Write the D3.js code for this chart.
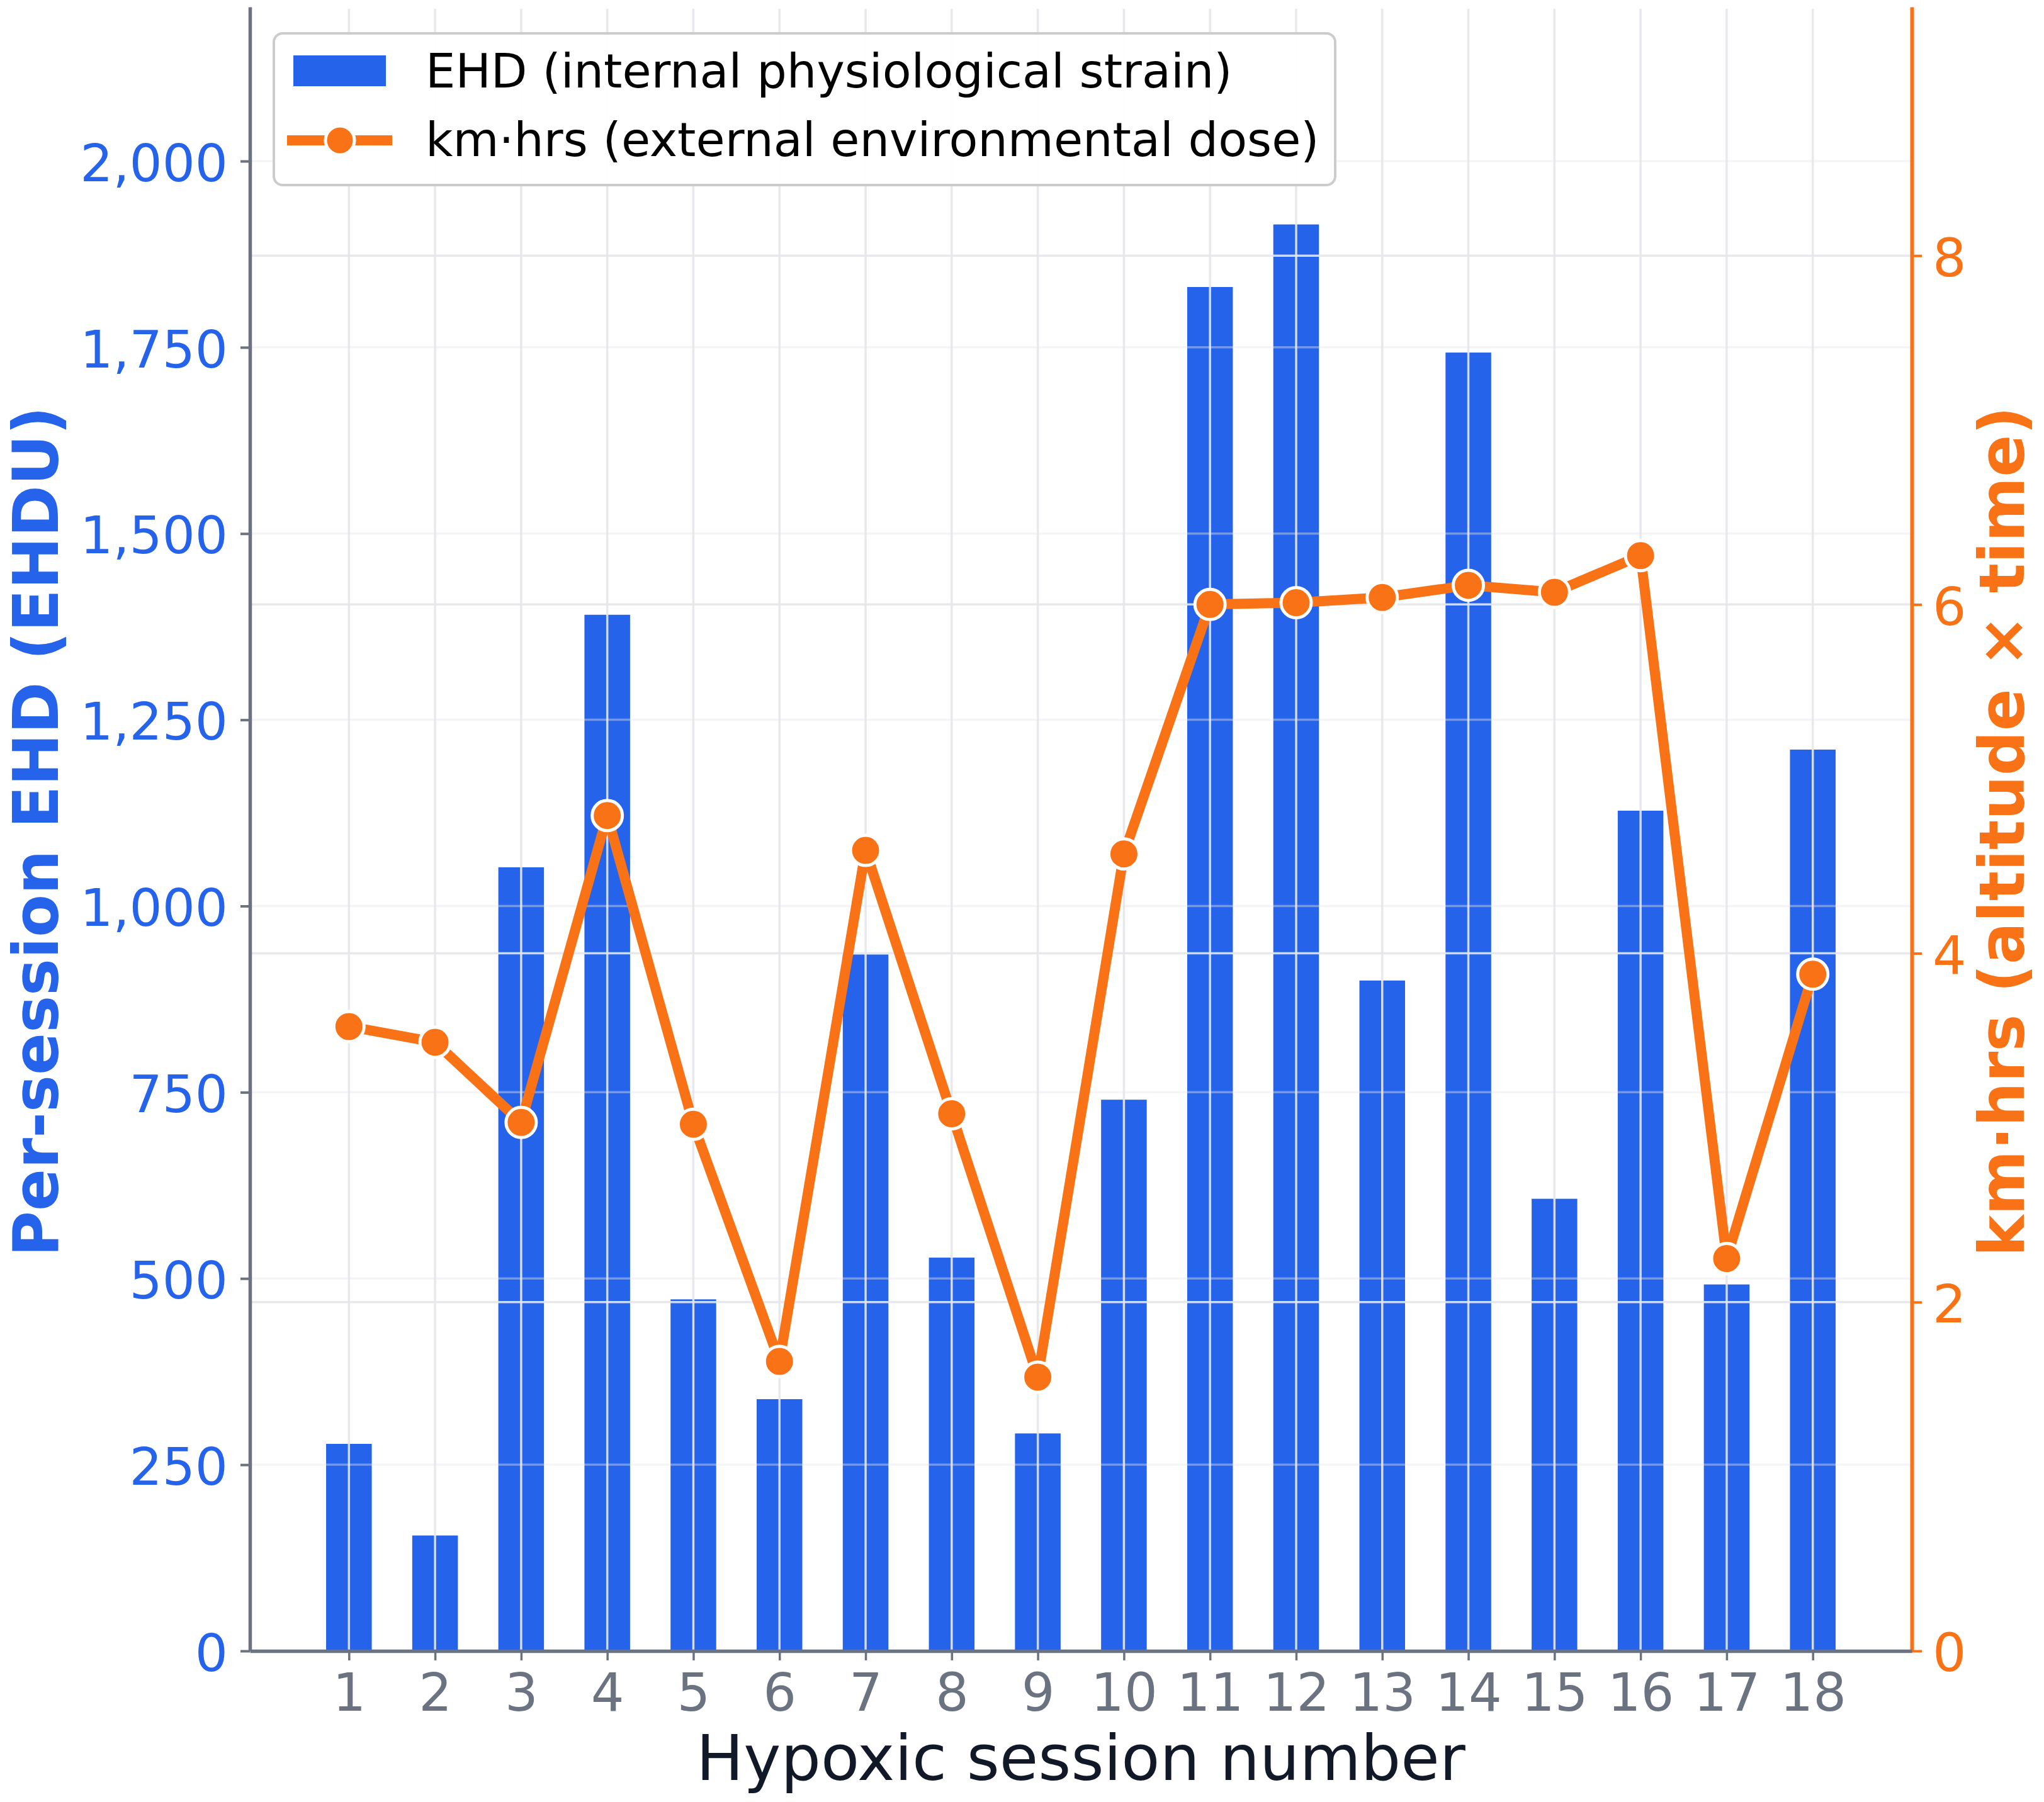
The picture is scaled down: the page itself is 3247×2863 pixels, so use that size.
<!DOCTYPE html>
<html>
<head>
<meta charset="utf-8">
<script src="https://cdn.jsdelivr.net/npm/d3@7"></script>
<style>
  html, body { margin: 0; padding: 0; background: #ffffff; }
  svg { display: block; font-family: "DejaVu Sans", sans-serif; }
</style>
</head>
<body>
<svg id="chart" width="3247" height="2863"></svg>
<script>
// ---- data ----
const sessions = [1,2,3,4,5,6,7,8,9,10,11,12,13,14,15,16,17,18];
const ehdValues = [278, 155, 1052, 1391, 472, 338, 935, 528, 292, 740, 1831, 1915, 900, 1743, 607, 1128, 492, 1210];
const kmHrsValues = [3.58, 3.49, 3.03, 4.79, 3.02, 1.66, 4.59, 3.08, 1.57, 4.57, 6.00, 6.01, 6.04, 6.11, 6.07, 6.28, 2.25, 3.88];
const leftTicks = [0, 250, 500, 750, 1000, 1250, 1500, 1750, 2000];
const rightTicks = [0, 2, 4, 6, 8];
const seriesNames = ["EHD (internal physiological strain)", "km\u00B7hrs (external environmental dose)"];
const xTitle = "Hypoxic session number";
const yLeftTitle = "Per-session EHD (EHDU)";
const yRightTitle = "km\u00B7hrs (altitude \u00D7 time)";

// ---- styling ----
const BLUE = "#2563eb", ORANGE = "#f97316", GRAY = "#6b7280", DARK = "#111827", GRID = "#e5e7eb";
const plot = { left: 397, right: 3037, top: 11, bottom: 2623 };
const barWidth = 0.53;

const svg = d3.select("#chart");
const x = d3.scaleLinear().domain([-0.15, 19.15]).range([plot.left, plot.right]);
const yL = d3.scaleLinear().domain([0, 2207]).range([plot.bottom, plot.top]);
const yR = d3.scaleLinear().domain([0, 9.426]).range([plot.bottom, plot.top]);

// bars
svg.append("g").selectAll("rect").data(sessions).join("rect")
  .attr("x", (d) => x(d - barWidth / 2))
  .attr("width", (d) => x(barWidth) - x(0))
  .attr("y", (d, i) => yL(ehdValues[i]))
  .attr("height", (d, i) => yL(0) - yL(ehdValues[i]))
  .attr("fill", BLUE);

// left-axis grid (faint, over bars)
svg.append("g").selectAll("line").data(leftTicks.filter(d => d > 0)).join("line")
  .attr("x1", plot.left).attr("x2", plot.right)
  .attr("y1", d => yL(d)).attr("y2", d => yL(d))
  .attr("stroke", GRID).attr("stroke-width", 3.5).attr("stroke-opacity", 0.4);

// right-axis grid + vertical grid
svg.append("g").selectAll("line").data(rightTicks.filter(d => d > 0)).join("line")
  .attr("x1", plot.left).attr("x2", plot.right)
  .attr("y1", d => yR(d)).attr("y2", d => yR(d))
  .attr("stroke", GRID).attr("stroke-width", 3.5).attr("stroke-opacity", 0.9);
svg.append("g").selectAll("line").data(sessions).join("line")
  .attr("x1", d => x(d)).attr("x2", d => x(d))
  .attr("y1", plot.top + 3).attr("y2", plot.bottom)
  .attr("stroke", GRID).attr("stroke-width", 3.5).attr("stroke-opacity", 0.9);

// axes
const axL = svg.append("g").attr("transform", `translate(${plot.left},0)`)
  .call(d3.axisLeft(yL).tickValues(leftTicks).tickFormat(d3.format(",")).tickSize(15).tickSizeOuter(0).tickPadding(20));
axL.select(".domain").attr("stroke", GRAY).attr("stroke-width", 5.5);
axL.selectAll(".tick line").attr("stroke", GRAY).attr("stroke-width", 4);
axL.selectAll(".tick text").attr("fill", BLUE).attr("font-size", 82).attr("dy", "0.38em")
  .attr("font-family", "DejaVu Sans");

const axR = svg.append("g").attr("transform", `translate(${plot.right},0)`)
  .call(d3.axisRight(yR).tickValues(rightTicks).tickFormat(d3.format("d")).tickSize(16).tickSizeOuter(0).tickPadding(17));
axR.select(".domain").attr("stroke", ORANGE).attr("stroke-width", 6);
axR.selectAll(".tick line").attr("stroke", ORANGE).attr("stroke-width", 4);
axR.selectAll(".tick text").attr("fill", ORANGE).attr("font-size", 84).attr("dy", "0.38em")
  .attr("font-family", "DejaVu Sans");

const axB = svg.append("g").attr("transform", `translate(0,${plot.bottom})`)
  .call(d3.axisBottom(x).tickValues(sessions).tickFormat(d3.format("d")).tickSize(15).tickSizeOuter(0).tickPadding(21));
axB.select(".domain").attr("stroke", GRAY).attr("stroke-width", 5.5);
axB.selectAll(".tick line").attr("stroke", GRAY).attr("stroke-width", 3.5);
axB.selectAll(".tick text").attr("fill", GRAY).attr("font-size", 83)
  .attr("font-family", "DejaVu Sans");

// line + markers
const lineGen = d3.line().x((d) => x(d)).y((d, i) => yR(kmHrsValues[i]));
svg.append("path").datum(sessions)
  .attr("d", lineGen)
  .attr("fill", "none").attr("stroke", ORANGE).attr("stroke-width", 16)
  .attr("stroke-linejoin", "round");
svg.append("g").selectAll("circle").data(sessions).join("circle")
  .attr("cx", d => x(d)).attr("cy", (d, i) => yR(kmHrsValues[i]))
  .attr("r", 24).attr("fill", ORANGE).attr("stroke", "#ffffff").attr("stroke-width", 5);

// axis titles
svg.append("text").attr("x", (plot.left + plot.right) / 2).attr("y", 2828)
  .attr("text-anchor", "middle").attr("font-size", 100).attr("fill", DARK).text(xTitle);
svg.append("text").attr("transform", `translate(92,${(plot.top + plot.bottom) / 2 + 4}) rotate(-90)`)
  .attr("text-anchor", "middle").attr("font-size", 99).attr("font-weight", "bold").attr("fill", BLUE).text(yLeftTitle);
svg.append("text").attr("transform", `translate(3215,${(plot.top + plot.bottom) / 2 + 4}) rotate(-90)`)
  .attr("text-anchor", "middle").attr("font-size", 99).attr("font-weight", "bold").attr("fill", ORANGE).text(yRightTitle);

// legend
const lg = svg.append("g");
lg.append("rect").attr("x", 435).attr("y", 53).attr("width", 1686).attr("height", 241)
  .attr("rx", 14).attr("ry", 14).attr("fill", "#ffffff").attr("fill-opacity", 0.92)
  .attr("stroke", "#cccccc").attr("stroke-width", 4);
lg.append("rect").attr("x", 466).attr("y", 88).attr("width", 147).attr("height", 49).attr("fill", BLUE);
lg.append("line").attr("x1", 456).attr("x2", 623).attr("y1", 223).attr("y2", 223)
  .attr("stroke", ORANGE).attr("stroke-width", 16);
lg.append("circle").attr("cx", 540).attr("cy", 223).attr("r", 23)
  .attr("fill", ORANGE).attr("stroke", "#ffffff").attr("stroke-width", 5);
lg.selectAll("text.lt").data(seriesNames).join("text").attr("class", "lt")
  .attr("x", 676).attr("y", (d, i) => [139, 248][i])
  .attr("font-size", 75).attr("fill", "#000000").text(d => d);
</script>
</body>
</html>
